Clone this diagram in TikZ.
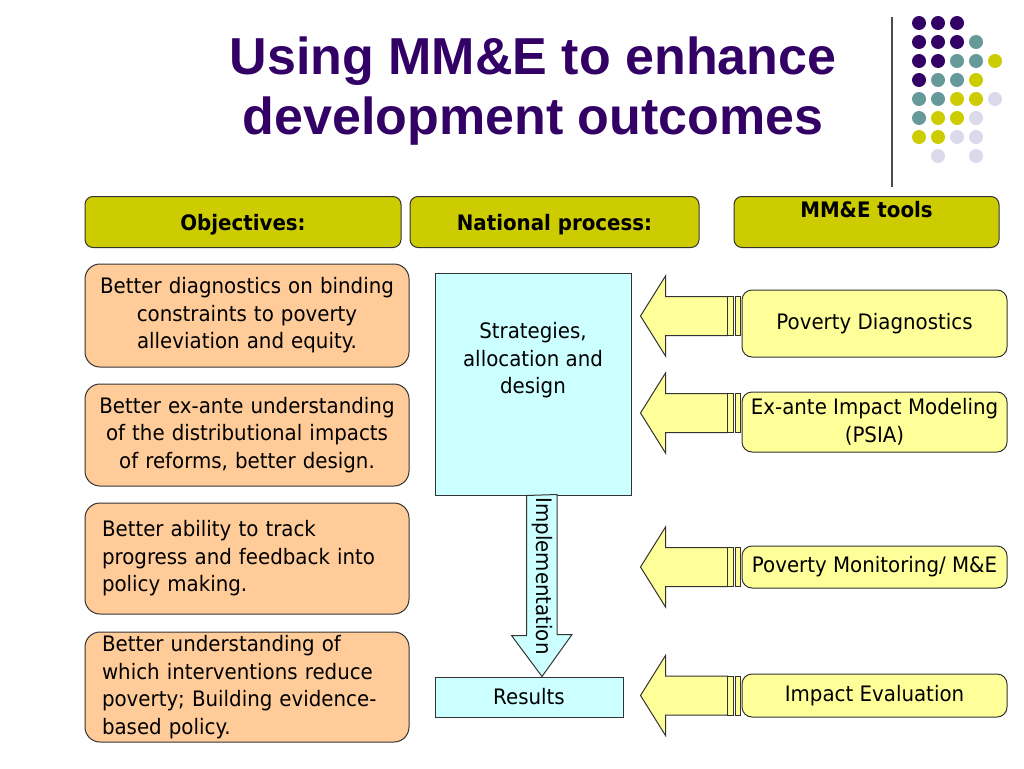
\documentclass[tikz,border=0pt]{standalone}
\usepackage{fontspec}
\setmainfont{DejaVu Sans}[FakeStretch=0.93]
\newfontfamily\titlefont{Liberation Sans}
\usepackage{tikz}
\usetikzlibrary{calc}

\definecolor{titlepurple}{RGB}{51,0,102}
\definecolor{hdrolive}{RGB}{204,204,0}
\definecolor{objorange}{RGB}{255,204,153}
\definecolor{proccyan}{RGB}{204,255,255}
\definecolor{toolyellow}{RGB}{255,255,153}
\definecolor{dotteal}{RGB}{102,153,153}
\definecolor{dotlilac}{RGB}{218,218,236}

\newcommand\bodysize{\fontsize{21.3}{27.5}\selectfont}

\tikzset{
  box/.style={draw=black!80, line width=1pt, inner sep=0pt},
  hdrbox/.style={box, fill=hdrolive, rounded corners=8pt, anchor=north,
    font=\fontsize{21.3}{25}\selectfont\bfseries},
  objbox/.style={box, fill=objorange, rounded corners=15pt, font=\bodysize},
  objmid/.style={objbox, align=center, inner xsep=5pt, text width=314pt},
  objleft/.style={objbox, align=left, inner xsep=17pt, text width=290pt},
  procbox/.style={box, fill=proccyan},
  toolbox/.style={box, fill=toolyellow, rounded corners=10pt,
    minimum width=265pt, font=\bodysize},
  toolarrow/.style={box, fill=toolyellow}
}

\begin{document}
\begin{tikzpicture}[x=1pt, y=-1pt]
  \fill[white] (0,0) rectangle (1024,768);

  % Title
  \node[font=\titlefont\bfseries\fontsize{52}{60}\selectfont, text=titlepurple,
    align=center, inner sep=0pt] (title) at (533,91.5)
    {Using MM\&E to enhance\\development outcomes};

  % Dots in the corner
  \draw[black!70, line width=1.2pt] (892,17) -- (892,187);
  \foreach \i/\j in {0/0,1/0,2/0,0/1,1/1,2/1,0/2,1/2,0/3}
    \fill[titlepurple] (919+19*\i, 23+19*\j) circle (7pt);
  \foreach \i/\j in {3/1,2/2,3/2,1/3,2/3,0/4,1/4,0/5}
    \fill[dotteal] (919+19*\i, 23+19*\j) circle (7pt);
  \foreach \i/\j in {4/2,3/3,2/4,3/4,1/5,2/5,0/6,1/6}
    \fill[hdrolive] (919+19*\i, 23+19*\j) circle (7pt);
  \foreach \i/\j in {4/4,3/5,2/6,3/6,1/7,3/7}
    \fill[dotlilac] (919+19*\i, 23+19*\j) circle (7pt);

  % Headers
  \node[hdrbox, minimum width=316pt, text height=34pt, text depth=17pt] (obj) at (243,196) {Objectives:};
  \node[hdrbox, minimum width=289pt, text height=34pt, text depth=17pt] (natl) at (554.5,196) {National process:};
  \node[hdrbox, minimum width=265pt, text height=21pt, text depth=30pt] (tools) at (866.5,196) {MM\&E tools};

  % Objectives
  \node[objmid, minimum height=103pt] (ob1) at (247,315.5)
    {Better diagnostics on binding\\constraints to poverty\\alleviation and equity.};
  \node[objmid, minimum height=102pt] (ob2) at (247,435)
    {Better ex-ante understanding\\of the distributional impacts\\of reforms, better design.};
  \node[objleft, minimum height=111pt] (ob3) at (247,558.5)
    {Better ability to track\\progress and feedback into\\policy making.};
  \node[objleft, minimum height=110pt] (ob4) at (247,687)
    {Better understanding of\\which interventions reduce\\poverty; Building evidence-\\based policy.};

  % National process
  \node[procbox, minimum width=196pt, minimum height=222pt] (strat) at (533,384) {};
  \node[font=\bodysize, align=center] (strattxt) at (533,360.5)
    {Strategies,\\allocation and\\design};
  \node[procbox, minimum width=188pt, minimum height=40pt, font=\bodysize] (results) at (529,697) {Results};
  \draw[procbox] ($(strat.south west)+(92,0)$) -- ++(0,140) -- ++(-15,0)
    -- ($(results.north)+(13,0)$) -- ++(30,-42) -- ++(-15,0) -- ++(0,-140) -- cycle;
  \node[rotate=-90, font=\bodysize] (impl) at (542,576) {Implementation};

  % Tools
  \node[toolbox, minimum height=67pt] (pd) at (874.5,323.5) {Poverty Diagnostics};
  \node[toolbox, minimum height=60pt, align=center] (psia) at (874.5,422)
    {Ex-ante Impact Modeling\\(PSIA)};
  \node[toolbox, minimum height=42pt] (pm) at (874.5,567) {Poverty Monitoring/ M\&E};
  \node[toolbox, minimum height=43pt] (ie) at (874.5,695.5) {Impact Evaluation};

  % Striped arrows into the process
  \foreach \tool/\dy in {pd/-7.5, psia/-9, pm/0, ie/0} {
    \draw[toolarrow] ($(strat.east |- \tool.west)+(9,\dy)$) -- ++(25,-40) -- ++(0,20.5)
      -- ++(62,0) -- ++(0,39) -- ++(-62,0) -- ++(0,20.5) -- cycle;
    \draw[toolarrow] ($(\tool.west)+(-14,\dy-19.5)$) rectangle ++(6,39);
    \draw[toolarrow] ($(\tool.west)+(-6,\dy-19.5)$) rectangle ++(5,39);
  }
\end{tikzpicture}
\end{document}
